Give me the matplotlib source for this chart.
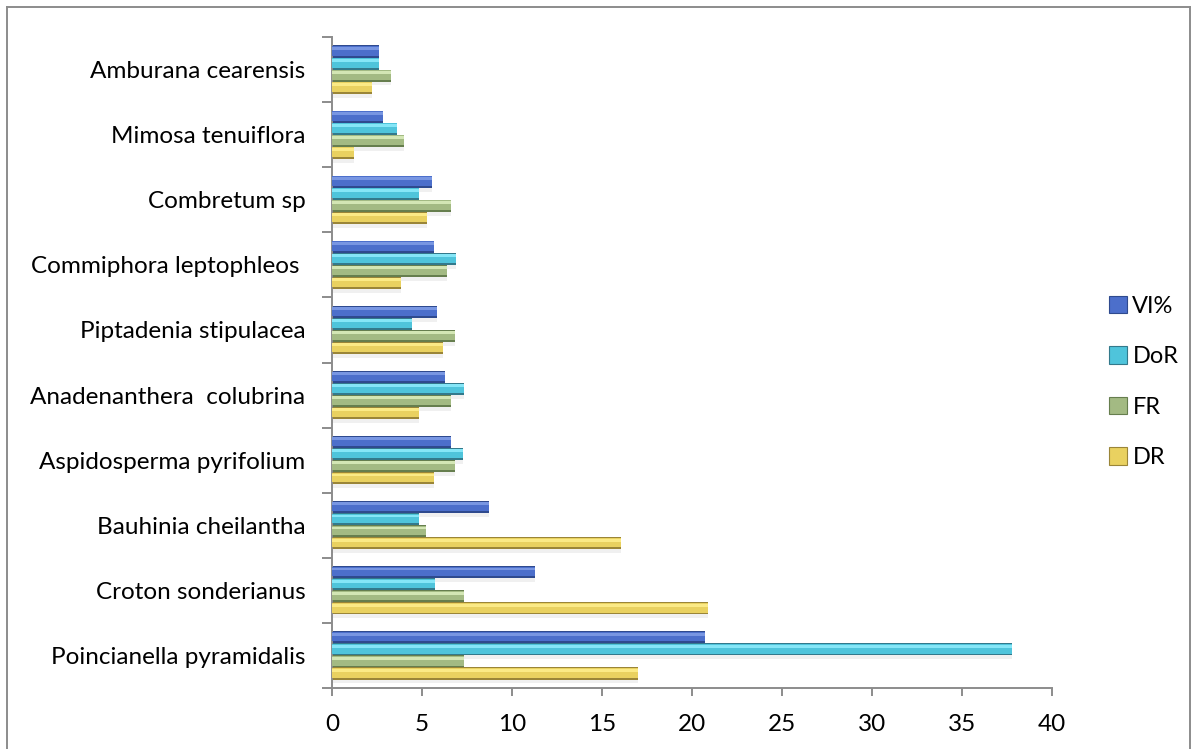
import matplotlib
matplotlib.use("Agg")
import matplotlib.pyplot as plt
from matplotlib.patches import Patch
from matplotlib.lines import Line2D
import numpy as np

categories = ["Poincianella pyramidalis", "Croton sonderianus", "Bauhinia cheilantha",
              "Aspidosperma pyrifolium", "Anadenanthera  colubrina", "Piptadenia stipulacea",
              "Commiphora leptophleos ", "Combretum sp", "Mimosa tenuiflora", "Amburana cearensis"]
DR = [17.0, 20.87, 16.06, 5.66, 4.82, 6.16, 3.82, 5.27, 1.2, 2.2]
FR = [7.32, 7.32, 5.2, 6.83, 6.6, 6.83, 6.38, 6.6, 4.0, 3.26]
DoR = [37.8, 5.7, 4.82, 7.27, 7.32, 4.44, 6.9, 4.86, 3.6, 2.63]
VI = [20.7, 11.26, 8.7, 6.6, 6.27, 5.83, 5.66, 5.55, 2.85, 2.63]
series_names = ["DR", "FR", "DoR", "VI%"]
xticks = [0, 5, 10, 15, 20, 25, 30, 35, 40]

# (main, highlight, dark)
colors = {
    "DR": ("#e9d160", "#fbea86", "#9a8538"),
    "FR": ("#a3ba83", "#d3e6b4", "#667e4e"),
    "DoR": ("#4fc4db", "#85e6f7", "#33798b"),
    "VI%": ("#4c6fcb", "#7896e2", "#2f4a8e"),
}

plt.rcParams['font.family'] = ['Lato', 'DejaVu Sans']

fig = plt.figure(figsize=(11.97, 7.49), dpi=100)
W, H = 1197, 749
ax = fig.add_axes([332 / W, 1 - 688 / H, (1052 - 332) / W, (688 - 37) / H])

y = np.arange(len(categories))
h = 0.185
data = [DR, FR, DoR, VI]
for i, (name, vals) in enumerate(zip(series_names, data)):
    main, hi, dark = colors[name]
    pos = y + (i - 1.5) * h
    # soft shadow
    ax.barh(pos - 0.06, vals, height=h, color="#000000", alpha=0.06, zorder=1, linewidth=0)
    # dark base (bevel bottom)
    ax.barh(pos, vals, height=h, color=dark, zorder=2, linewidth=0)
    # main body
    ax.barh(pos + 0.05 * h, vals, height=0.78 * h, color=main, zorder=3, linewidth=0)
    # highlight strip
    ax.barh(pos + 0.27 * h, vals, height=0.24 * h, color=hi, zorder=4, linewidth=0)

ax.set_xlim(0, 40)
ax.set_ylim(-0.5, len(categories) - 0.5)
ax.set_xticks(xticks)
ax.set_xticklabels([str(t) for t in xticks])
ax.set_yticks(y)
ax.set_yticklabels(categories)
ax.set_yticks(np.arange(-0.5, len(categories) + 0.5, 1), minor=True)

spine_c = "#8c8c8c"
for s in ["top", "right"]:
    ax.spines[s].set_visible(False)
for s in ["left", "bottom"]:
    ax.spines[s].set_color(spine_c)
    ax.spines[s].set_linewidth(1.4)

ax.tick_params(axis="y", which="major", length=0, pad=19, labelsize=17.5, labelcolor="#000000")
ax.tick_params(axis="y", which="minor", length=7, width=1.4, color=spine_c, direction="out")
ax.tick_params(axis="x", which="major", length=6, width=1.4, color=spine_c, direction="out",
               pad=13, labelsize=17.5, labelcolor="#000000")

# legend
handles = []
for name in ["VI%", "DoR", "FR", "DR"]:
    main, hi, dark = colors[name]
    handles.append(Patch(facecolor=main, edgecolor=dark, linewidth=0.8, label=name))
fig.legend(handles=handles, loc="center left", bbox_to_anchor=(1097 / W, 1 - 382 / H),
           frameon=False, fontsize=17, handlelength=0.75, handleheight=0.75,
           handletextpad=0.25, labelspacing=1.25, borderpad=0)

# outer chart border
fig.add_artist(Line2D([6.5 / W, 6.5 / W], [0, 1 - 7 / H], transform=fig.transFigure,
                      color="#8c8c8c", linewidth=1.4))
fig.add_artist(Line2D([6.5 / W, 1190 / W], [1 - 7 / H, 1 - 7 / H], transform=fig.transFigure,
                      color="#8c8c8c", linewidth=1.4))
fig.add_artist(Line2D([1190 / W, 1190 / W], [0, 1 - 7 / H], transform=fig.transFigure,
                      color="#8c8c8c", linewidth=1.4))

fig.savefig("out.png", dpi=100)
